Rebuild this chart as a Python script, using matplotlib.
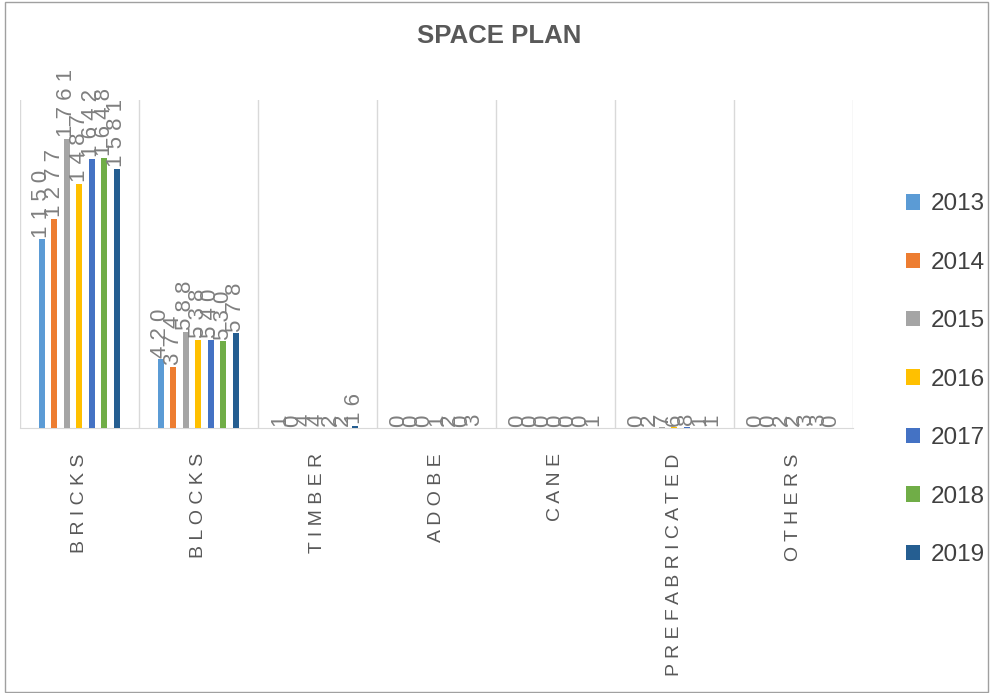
import matplotlib
matplotlib.use("Agg")
import matplotlib.pyplot as plt
from matplotlib.patches import Rectangle
import numpy as np

categories = ["BRICKS", "BLOCKS", "TIMBER", "ADOBE", "CANE", "PREFABRICATED", "OTHERS"]
years = ["2013", "2014", "2015", "2016", "2017", "2018", "2019"]
values = {
    "2013": [1150, 420, 1, 0, 0, 0, 0],
    "2014": [1277, 374, 0, 0, 0, 2, 0],
    "2015": [1761, 588, 4, 0, 0, 7, 2],
    "2016": [1487, 538, 4, 1, 0, 6, 2],
    "2017": [1642, 540, 2, 2, 0, 8, 3],
    "2018": [1648, 530, 2, 0, 0, 1, 3],
    "2019": [1581, 578, 16, 3, 1, 1, 0],
}
colors = ["#5B9BD5", "#ED7D31", "#A5A5A5", "#FFC000", "#4472C4", "#70AD47", "#255E91"]

plt.rcParams['font.family'] = ['Liberation Sans', 'DejaVu Sans']
fig = plt.figure(figsize=(9.93, 6.93), dpi=100)
ax = fig.add_axes([0.02, 0.382, 0.839, 0.474])

n = len(years)
step = 0.105
width = 0.05
x = np.arange(len(categories))
for i, (y, c) in enumerate(zip(years, colors)):
    off = (i - (n - 1) / 2) * step
    ax.bar(x + off, values[y], width=width, color=c, label=y, zorder=3)
    for xi, v in zip(x + off, values[y]):
        ax.text(xi, v + 10, " ".join(str(v)), rotation=90, ha='center', va='bottom',
                fontsize=16, color='#7F7F7F', zorder=4)

ax.set_xlim(-0.5, len(categories) - 0.5)
ax.set_ylim(0, 2000)
for b in np.arange(-0.5, len(categories), 1.0):
    ax.axvline(b, color='#D9D9D9', lw=1, zorder=1)
for s in ['top', 'right', 'left']:
    ax.spines[s].set_visible(False)
ax.spines['bottom'].set_color('#D9D9D9')
ax.set_yticks([])
ax.set_xticks(x)
ax.set_xticklabels([" ".join(list(c)) for c in categories], rotation=90,
                   fontsize=14, color='#595959', va='top')
ax.tick_params(axis='x', length=0, pad=18)

fig.text(0.503, 0.948, "SPACE PLAN", ha='center', va='center', fontsize=18.5,
         fontweight='bold', color='#595959')

leg = fig.legend(loc='center left', bbox_to_anchor=(0.89, 0.452), frameon=False,
                 fontsize=17.5, labelspacing=1.5, handlelength=0.6, handleheight=0.6,
                 handletextpad=0.45)
for t in leg.get_texts():
    t.set_color('#404040')

fig.patches.append(Rectangle((0.005, 0.002), 0.99, 0.995, transform=fig.transFigure,
                             fill=False, edgecolor='#A0A0A0', lw=1))

fig.savefig("out.png", dpi=100)
